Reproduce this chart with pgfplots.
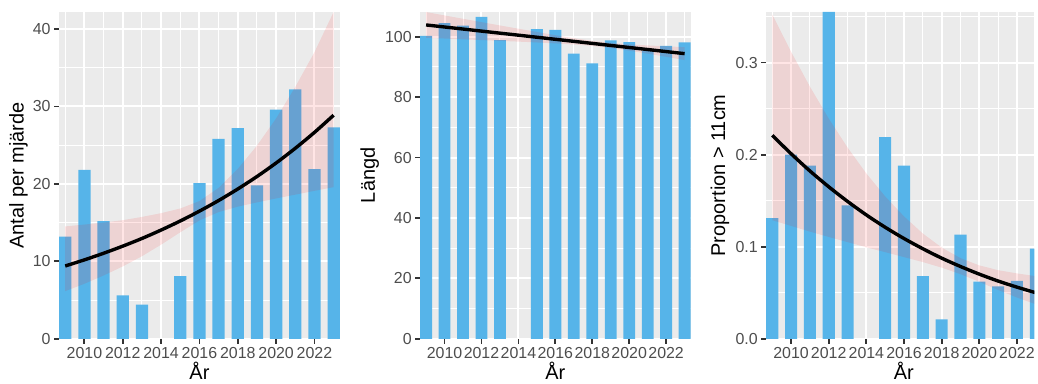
\documentclass[border=0pt]{standalone}
\usepackage{pgfplots}
\pgfplotsset{compat=1.18}
\usepgfplotslibrary{fillbetween}
\usepackage{fontspec}
\setmainfont{Liberation Sans}

\definecolor{barblue}{HTML}{56B4E9}
\definecolor{panelgray}{HTML}{EBEBEB}
\definecolor{ticktext}{HTML}{4D4D4D}
\definecolor{tickmark}{HTML}{333333}

% ggplot-like panel: grey background, white grid, outside ticks, no axis lines
\pgfplotsset{
  ggpanel/.style={
    scale only axis,
    height=328pt,
    xmin=2008.68, xmax=2023.32,
    ymin=0,
    axis background/.style={fill=panelgray},
    axis line style={draw=none},
    grid=both,
    major grid style={white, line width=2pt},
    minor grid style={white, line width=1pt},
    xtick={2010,2012,2014,2016,2018,2020,2022},
    xticklabels={2010,2012,2014,2016,2018,2020,2022},
    minor xtick={2009,2011,2013,2015,2017,2019,2021,2023},
    xtick pos=left, ytick pos=left,
    tick align=outside,
    major tick length=5pt,
    minor tick length=0pt,
    every tick/.style={color=tickmark, line width=1.8pt},
    tick label style={font=\fontsize{16}{19}\selectfont, text=ticktext},
    label style={font=\fontsize{20}{24}\selectfont},
    xlabel={År},
    xlabel style={at={(axis description cs:0.5,0)}, anchor=base, inner sep=0pt, yshift=-40.5pt},
    fill between/on layer=main,
  },
  ggbars/.style={ybar, bar width=0.64, bar shift=0pt, fill=barblue, draw=none},
  ggband/.style={fill=red, fill opacity=0.1, draw=none},
  ggfit/.style={black, line width=3.4pt, smooth},
}

\begin{document}
\begin{tikzpicture}

% Antal per mjärde
\begin{axis}[ggpanel, at={(59.3pt,45pt)}, anchor=south west, width=281.7pt,
  ymax=42.2,
  ytick={0,10,20,30,40}, yticklabels={0,10,20,30,40},
  minor ytick={5,15,25,35},
  ylabel={Antal per mjärde},
  ylabel style={at={(axis description cs:-0.145,0.5)}, anchor=center}]
\addplot[ggbars] coordinates {
  (2009,13.2) (2010,21.8) (2011,15.2) (2012,5.6) (2013,4.4)
  (2015,8.1) (2016,20.1) (2017,25.8) (2018,27.2) (2019,19.8)
  (2020,29.6) (2021,32.2) (2022,21.9) (2023,27.3)};
\addplot[name path=aup, draw=none] coordinates {
  (2009,14.50) (2010,14.75) (2011,15.00) (2012,15.31) (2013,15.73)
  (2014,16.22) (2015,16.82) (2016,17.78) (2017,19.48) (2018,21.93)
  (2019,24.93) (2020,28.45) (2021,32.52) (2022,37.00) (2023,42.20)};
\addplot[name path=alo, draw=none] coordinates {
  (2009,6.15) (2010,7.10) (2011,8.17) (2012,9.34) (2013,10.66)
  (2014,12.15) (2015,13.75) (2016,15.28) (2017,16.36) (2018,17.06)
  (2019,17.61) (2020,18.12) (2021,18.61) (2022,19.10) (2023,19.58)};
\addplot[ggband] fill between[of=aup and alo];
\addplot[ggfit] coordinates {
  (2009,9.40) (2010,10.19) (2011,11.04) (2012,11.96) (2013,12.95)
  (2014,14.04) (2015,15.21) (2016,16.48) (2017,17.85) (2018,19.34)
  (2019,20.95) (2020,22.70) (2021,24.60) (2022,26.65) (2023,28.87)};
\end{axis}

% Längd
\begin{axis}[ggpanel, at={(421.7pt,45pt)}, anchor=south west, width=271.3pt,
  ymax=108.2,
  ytick={0,20,40,60,80,100}, yticklabels={0,20,40,60,80,100},
  minor ytick={10,30,50,70,90},
  ylabel={Längd},
  ylabel style={at={(axis description cs:-0.187,0.5)}, anchor=center}]
\addplot[ggbars] coordinates {
  (2009,100.3) (2010,104.5) (2011,103.7) (2012,106.6) (2013,98.9)
  (2015,102.5) (2016,102.3) (2017,94.4) (2018,91.2) (2019,98.8)
  (2020,98.2) (2021,95.4) (2022,97.0) (2023,98.1)};
\addplot[name path=bup, draw=none] coordinates {
  (2009,108.16) (2010,107.05) (2011,105.94) (2012,104.83) (2013,103.73)
  (2014,102.65) (2015,101.57) (2016,100.51) (2017,99.51) (2018,98.62)
  (2019,97.94) (2020,97.47) (2021,97.12) (2022,96.82) (2023,96.54)};
\addplot[name path=blo, draw=none] coordinates {
  (2009,99.64) (2010,99.40) (2011,99.14) (2012,98.89) (2013,98.63)
  (2014,98.38) (2015,98.10) (2016,97.79) (2017,97.43) (2018,96.96)
  (2019,96.28) (2020,95.39) (2021,94.40) (2022,93.35) (2023,92.27)};
\addplot[ggband] fill between[of=bup and blo];
\addplot[ggfit] coordinates {
  (2009,103.90) (2010,103.22) (2011,102.54) (2012,101.86) (2013,101.18)
  (2014,100.51) (2015,99.83) (2016,99.15) (2017,98.47) (2018,97.79)
  (2019,97.11) (2020,96.43) (2021,95.76) (2022,95.08) (2023,94.40)};
\end{axis}

% Proportion > 11cm (panel runs to the right edge of the figure)
\begin{axis}[ggpanel, at={(769pt,45pt)}, anchor=south west, width=269pt,
  xmax=2022.92,
  ymax=0.355,
  ytick={0,0.1,0.2,0.3}, yticklabels={0.0,0.1,0.2,0.3},
  minor ytick={0.05,0.15,0.25,0.35},
  ylabel={Proportion > 11cm},
  ylabel style={at={(axis description cs:-0.173,0.5)}, anchor=center},
  xlabel style={at={(axis description cs:0.513,0)}}]
\addplot[ggbars] coordinates {
  (2009,0.131) (2010,0.200) (2011,0.188) (2012,0.355) (2013,0.145)
  (2015,0.219) (2016,0.188) (2017,0.068) (2018,0.021) (2019,0.113)
  (2020,0.062) (2021,0.057) (2022,0.063) (2023,0.098)};
\addplot[name path=cup, draw=none] coordinates {
  (2009,0.3523) (2010,0.3117) (2011,0.2739) (2012,0.2392) (2013,0.2077)
  (2014,0.1795) (2015,0.1546) (2016,0.1329) (2017,0.1143) (2018,0.0991)
  (2019,0.0876) (2020,0.0797) (2021,0.0745) (2022,0.0710) (2023,0.0680)};
\addplot[name path=clo, draw=none] coordinates {
  (2009,0.1288) (2010,0.1226) (2011,0.1164) (2012,0.1106) (2013,0.1050)
  (2014,0.0994) (2015,0.0941) (2016,0.0887) (2017,0.0833) (2018,0.0773)
  (2019,0.0702) (2020,0.0619) (2021,0.0530) (2022,0.0448) (2023,0.0375)};
\addplot[ggband] fill between[of=cup and clo];
\addplot[ggfit] coordinates {
  (2009,0.2210) (2010,0.2010) (2011,0.1823) (2012,0.1651) (2013,0.1492)
  (2014,0.1345) (2015,0.1211) (2016,0.1089) (2017,0.0978) (2018,0.0876)
  (2019,0.0785) (2020,0.0702) (2021,0.0627) (2022,0.0561) (2023,0.0500)};
\end{axis}

% figure frame
\path (0,0) rectangle (1038pt,385pt);
\end{tikzpicture}
\end{document}
